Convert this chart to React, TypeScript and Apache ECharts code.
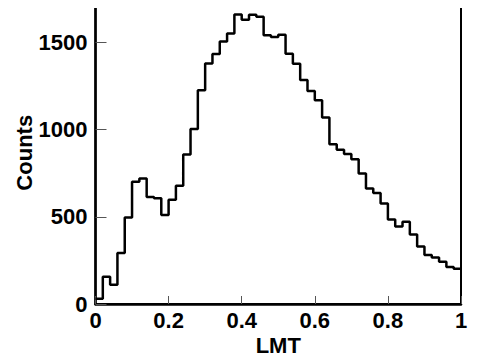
import React, { useEffect, useRef } from "react";
import * as echarts from "echarts";

const binStart = 0;
const binWidth = 0.02;
const counts = [
  30, 157, 111, 292, 496, 701, 720, 613, 607, 510,
  598, 678, 857, 1004, 1226, 1380, 1434, 1506, 1552, 1661,
  1630, 1659, 1648, 1541, 1531, 1545, 1436, 1378, 1285, 1222,
  1168, 1069, 916, 884, 861, 830, 748, 662, 636, 577,
  485, 445, 472, 399, 330, 281, 267, 242, 212, 202,
];
const xTicks = [0, 0.2, 0.4, 0.6, 0.8, 1];
const yTicks = [0, 500, 1000, 1500];
const xName = "LMT";
const yName = "Counts";

export default function App() {
  const ref = useRef<HTMLDivElement>(null);
  useEffect(() => {
    if (!ref.current) return;
    const chart = echarts.init(ref.current, null, { renderer: "svg" });
    const pts: [number, number][] = counts.map((c, i) => [
      +(binStart + i * binWidth).toFixed(4),
      c,
    ]);
    pts.push([+(binStart + counts.length * binWidth).toFixed(4), counts[counts.length - 1]]);
    const font = "Liberation Sans, Arial, sans-serif";
    chart.setOption({
      animation: false,
      grid: {
        left: 95.5,
        right: 16,
        top: 1.5,
        bottom: 57,
        show: true,
        borderColor: "#000",
        borderWidth: 2,
        backgroundColor: "transparent",
      },
      xAxis: [
        {
          type: "value",
          min: 0,
          max: 1,
          interval: 0.2,
          name: xName,
          nameLocation: "middle",
          nameGap: 30,
          nameMoveOverlap: false,
          nameTextStyle: { fontFamily: font, fontWeight: "bold", fontSize: 22, color: "#000" },
          axisLine: { show: true, lineStyle: { color: "#000", width: 2.5 } },
          axisTick: { show: true, inside: true, length: 8, lineStyle: { color: "#555", width: 1 } },
          axisLabel: {
            fontFamily: font,
            fontWeight: "bold",
            fontSize: 22,
            color: "#000",
            margin: 5,
            formatter: (v: number) => {
              const t = xTicks.find((x) => Math.abs(x - v) < 1e-6);
              return t === undefined ? "" : String(t);
            },
          },
          splitLine: { show: false },
        },
        {
          type: "value",
          position: "top",
          min: 0,
          max: 1,
          interval: 0.2,
          axisLine: { show: true, lineStyle: { color: "#222", width: 2 } },
          axisTick: { show: false },
          axisLabel: { show: false },
          splitLine: { show: false },
        },
      ],
      yAxis: {
        type: "value",
        min: 0,
        max: 1735,
        interval: 500,
        name: yName,
        nameLocation: "middle",
        nameGap: 60,
        nameMoveOverlap: false,
        nameTextStyle: { fontFamily: font, fontWeight: "bold", fontSize: 22, color: "#000" },
        axisLine: { show: true, lineStyle: { color: "#000", width: 2.5 } },
        axisTick: { show: true, inside: true, length: 11, lineStyle: { color: "#555", width: 1 } },
        axisLabel: {
          fontFamily: font,
          fontWeight: "bold",
          fontSize: 22,
          color: "#000",
          margin: 8,
          showMaxLabel: false,
          formatter: (v: number) => (yTicks.includes(v) ? String(v) : ""),
        },
        splitLine: { show: false },
      },
      series: [
        {
          type: "line",
          step: "end",
          xAxisIndex: 0,
          data: pts,
          symbol: "none",
          lineStyle: { color: "#000", width: 2.5 },
          clip: true,
        },
      ],
    });
    return () => chart.dispose();
  }, []);
  return <div ref={ref} style={{ width: 477, height: 361, margin: -8 }} />;
}
